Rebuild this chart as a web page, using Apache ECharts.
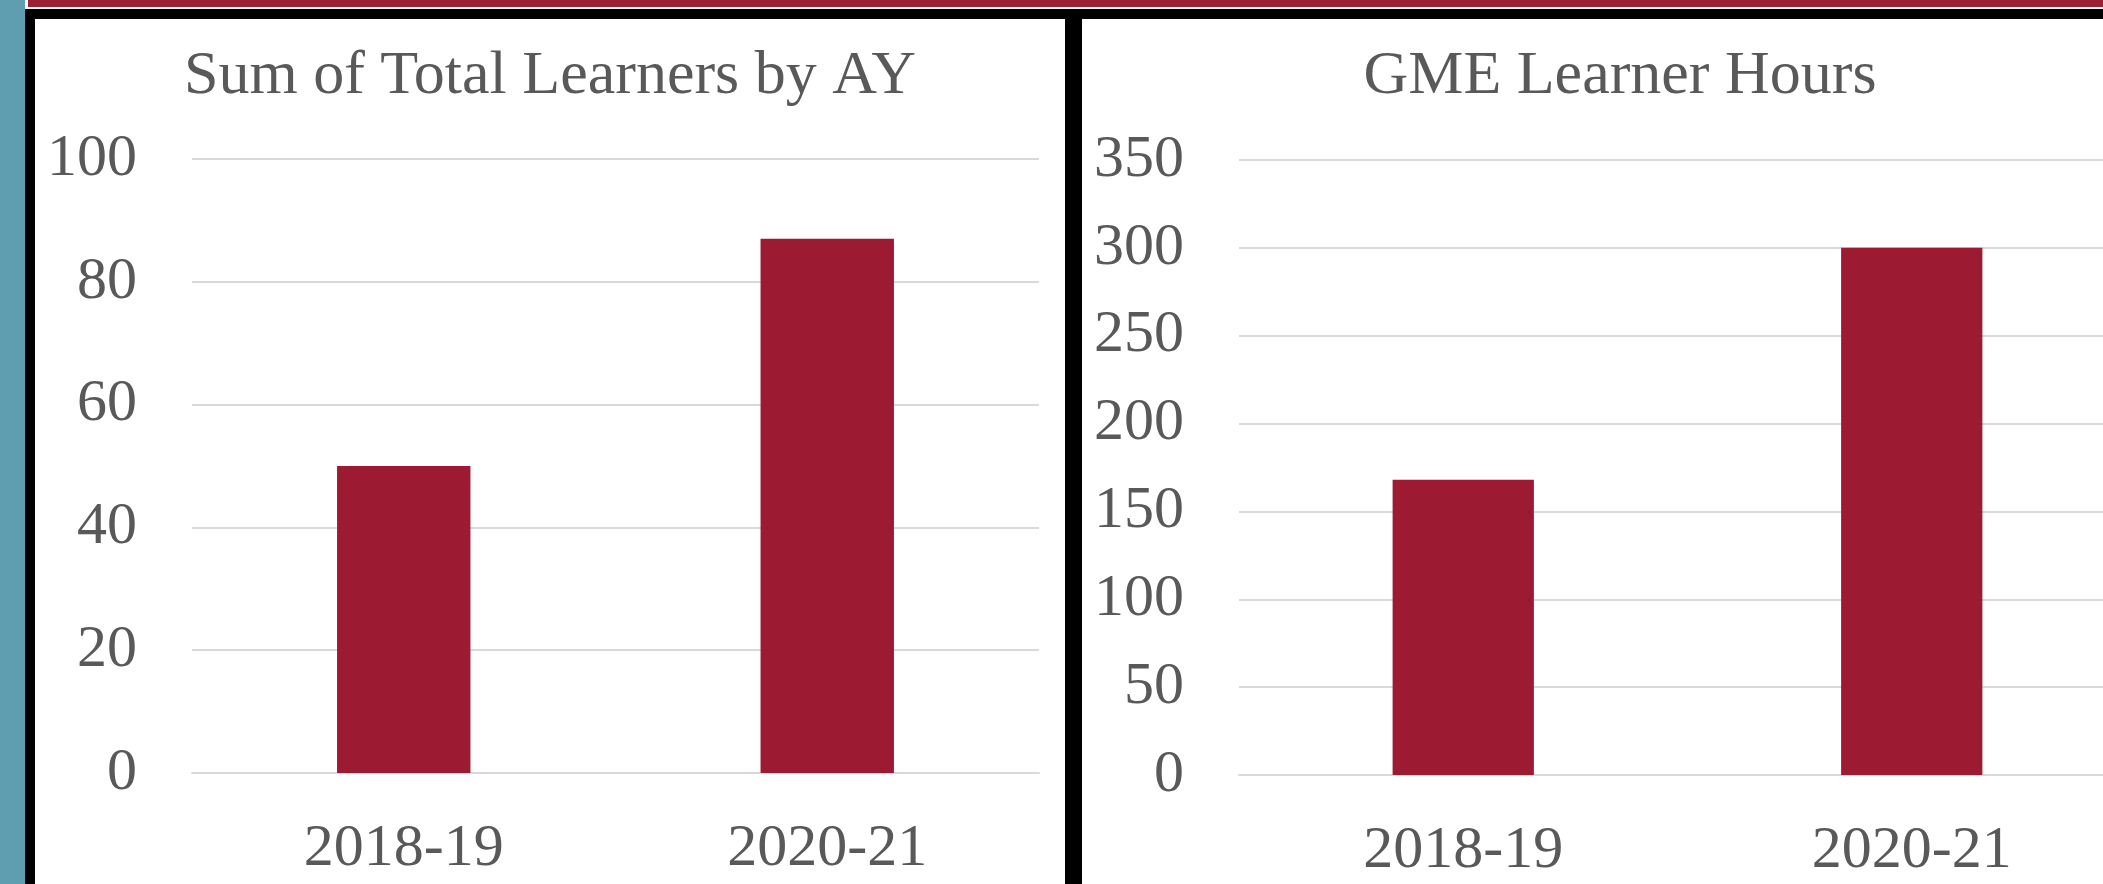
<!DOCTYPE html>
<html>
<head>
<meta charset="utf-8">
<script src="https://cdn.jsdelivr.net/npm/echarts@6/dist/echarts.min.js"></script>
<style>
  html, body { margin: 0; padding: 0; width: 2103px; height: 884px; overflow: hidden; background: #ffffff; }
  .abs { position: absolute; }
</style>
</head>
<body>
<div class="abs" style="left:0;top:0;width:25px;height:884px;background:#5f9eb0;"></div>
<div class="abs" style="left:28px;top:0;width:2075px;height:7px;background:#9b1f35;"></div>
<div class="abs" style="left:25px;top:9px;width:2078px;height:10px;background:#000;"></div>
<div class="abs" style="left:25px;top:9px;width:10px;height:875px;background:#000;"></div>
<div class="abs" style="left:1065px;top:9px;width:17px;height:875px;background:#000;"></div>
<div id="c1" class="abs" style="left:35px;top:19px;width:1030px;height:865px;"></div>
<div id="c2" class="abs" style="left:1082px;top:19px;width:1076px;height:865px;"></div>
<script>
// ---- data ----
const categories = ['2018-19', '2020-21'];
const totalLearners = [50, 87];
const gmeLearnerHours = [168, 300];
const title1 = 'Sum of Total Learners by AY';
const title2 = 'GME Learner Hours';

const FONT = '"Liberation Serif", "Times New Roman", serif';
const TEXT = '#595959';
const BAR = '#9c1b32';
const GRID = '#d9d9d9';

function makeOption(title, values, max, interval, gridTop, gridWidth, gridHeight) {
  return {
    animation: false,
    title: {
      text: title,
      left: 'center',
      top: 22,
      textStyle: { fontFamily: FONT, fontSize: 62, fontWeight: 'normal', color: TEXT }
    },
    grid: { left: 157, top: gridTop, width: gridWidth, height: gridHeight, containLabel: false },
    xAxis: {
      type: 'category',
      data: categories,
      axisTick: { show: false },
      axisLine: { show: true, lineStyle: { color: GRID, width: 2 } },
      axisLabel: { fontFamily: FONT, fontSize: 60, color: TEXT, margin: 46 }
    },
    yAxis: {
      type: 'value',
      min: 0,
      max: max,
      interval: interval,
      axisLine: { show: false },
      axisTick: { show: false },
      splitLine: { lineStyle: { color: GRID, width: 2 } },
      axisLabel: { fontFamily: FONT, fontSize: 60, color: TEXT, margin: 55 }
    },
    series: [{
      type: 'bar',
      data: values,
      barWidth: '31.5%',
      itemStyle: { color: BAR }
    }]
  };
}

const ch1 = echarts.init(document.getElementById('c1'), null, { renderer: 'canvas' });
ch1.setOption(makeOption(title1, totalLearners, 100, 20, 140, 847, 614));
const ch2 = echarts.init(document.getElementById('c2'), null, { renderer: 'canvas' });
ch2.setOption(makeOption(title2, gmeLearnerHours, 350, 50, 141, 897, 615));
</script>
</body>
</html>
